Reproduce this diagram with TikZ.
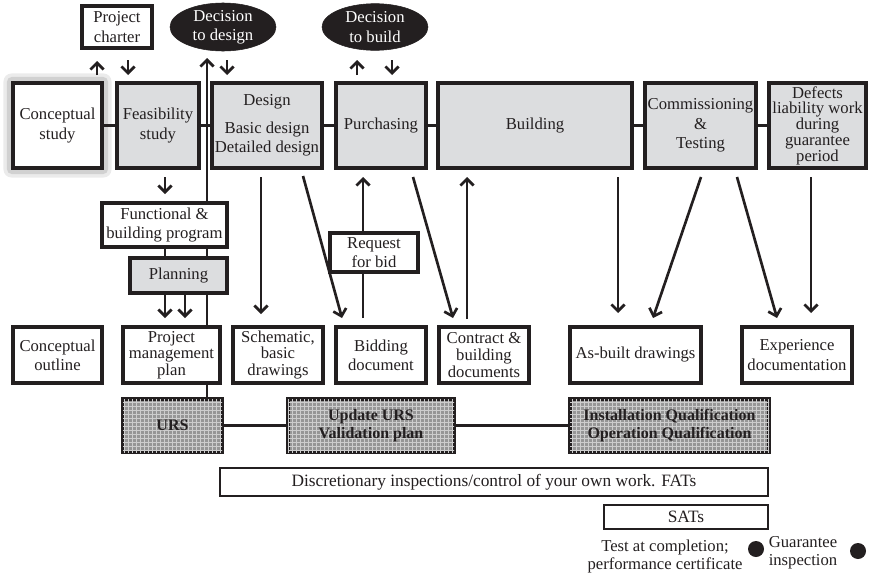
\documentclass[tikz,border=0pt]{standalone}
\usepackage{fontspec}
\setmainfont{Liberation Serif}
\usetikzlibrary{shapes.geometric,arrows.meta,patterns}
\pgfdeclarelayer{background}
\pgfsetlayers{background,main}
\definecolor{boxgray}{RGB}{220,221,223}
\definecolor{ink}{RGB}{35,31,32}
\definecolor{ursgray}{RGB}{150,150,150}
\definecolor{ursline}{RGB}{205,205,205}
\newcommand\bx[7][]{\node[#1, minimum width={(#4-#2)*0.75pt}, minimum height={(#5-#3)*0.75pt}] (#6) at ({(#2+#4)/2},{(#3+#5)/2}) {#7};}
\tikzset{
  base/.style={align=center, text=ink, font=\fontsize{12.5}{14.5}\selectfont, inner sep=1pt, line width=2.3pt, draw=ink},
  topg/.style={base, fill=boxgray},
  wb/.style={base, fill=white},
  gb/.style={base, fill=boxgray},
  ub/.style={base, fill=ursgray, text=ink, font=\bfseries\fontsize{12}{14}\selectfont, postaction={pattern=grid, pattern color=ursline}},
  tb/.style={base, fill=white, line width=0.8pt, font=\fontsize{13}{15}\selectfont},
  dec/.style={ellipse, fill=ink, draw=ink, text=white, align=center, font=\fontsize{12.5}{14.5}\selectfont, inner sep=0pt},
  txt/.style={align=center, text=ink, font=\fontsize{12.5}{13.5}\selectfont, inner sep=0pt},
  dot/.style={circle, fill=ink, minimum size=12pt, inner sep=0pt},
  ln/.style={line width=2pt, draw=ink},
  arr/.style={ln, -{Straight Barb[length=5pt,width=10pt]}},
}
\begin{document}
\begin{tikzpicture}[x=0.75pt, y=-0.75pt]
\useasboundingbox (0,0) rectangle (871,578);
% top row
\bx[wb]{13}{83}{102}{168}{cs}{Conceptual\\study}
\bx[topg]{117}{83}{199}{168}{fs}{Feasibility\\study}
\bx[topg]{212}{83}{322}{168}{des}{Design\\[6pt]Basic design\\Detailed design}
\bx[topg]{336}{83}{426}{168}{pur}{Purchasing}
\bx[topg]{438}{83}{632}{168}{bld}{Building}
\bx[topg]{645}{83}{756}{168}{com}{Commissioning\\\&\\Testing}
\bx[topg, font=\fontsize{12.5}{11.8}\selectfont]{769}{83}{866}{168}{def}{Defects\\liability work\\during\\guarantee\\period}
% above
\bx[wb]{82}{6}{152}{48}{pc}{Project\\charter}
\node[dec, minimum width=79.5pt, minimum height=35pt] (dd) at (223,27) {Decision\\to design};
\node[dec, minimum width=79.5pt, minimum height=35pt] (db) at (375,27) {Decision\\to build};
% middle
\bx[wb]{102}{203}{227}{247}{fbp}{Functional \&\\building program}
\bx[gb]{130}{258}{227}{293}{pl}{Planning}
\bx[wb]{330}{233}{418}{272}{rfb}{Request\\for bid}
% second row
\bx[wb]{13}{327}{102}{383}{co}{Conceptual\\outline}
\bx[wb, font=\fontsize{12.5}{12.5}\selectfont]{123}{327}{220}{383}{pmp}{Project\\management\\plan}
\bx[wb, font=\fontsize{12.5}{12.5}\selectfont]{233}{327}{323}{383}{sch}{Schematic,\\basic\\drawings}
\bx[wb]{336}{327}{426}{383}{bid}{Bidding\\document}
\bx[wb, font=\fontsize{12.5}{12.5}\selectfont]{439}{327}{529}{383}{con}{Contract \&\\building\\documents}
\bx[wb]{570}{327}{701}{383}{asb}{As-built drawings}
\bx[wb]{742}{327}{852}{383}{exp}{Experience\\documentation}
% validation row
\bx[ub]{123}{399}{222}{452}{urs}{URS}
\bx[ub]{288}{399}{454}{452}{upd}{Update URS\\Validation plan}
\bx[ub]{570}{399}{769}{452}{iq}{Installation Qualification\\Operation Qualification}
% bottom
\bx[tb]{220}{468}{768}{496}{disc}{Discretionary inspections/control of your own work. FATs}
\bx[tb]{604}{505}{768}{529}{sat}{SATs}
\node[txt] (tac) at (665,556) {Test at completion;\\performance certificate};
\node[dot] (d1) at (756,549) {};
\node[txt] (gi) at (803,553) {Guarantee\\inspection};
\node[dot] (d2) at (858,551) {};
\begin{pgfonlayer}{background}
  \fill[black!8, rounded corners=6pt] ([xshift=-6pt,yshift=-6pt]cs.south west) rectangle ([xshift=6pt,yshift=6pt]cs.north east);
  \fill[black!18, rounded corners=4pt] ([xshift=-3.5pt,yshift=-3.5pt]cs.south west) rectangle ([xshift=3.5pt,yshift=3.5pt]cs.north east);
  % horizontal chain
  \draw[ln] (cs.east) -- (fs.west);
  \draw[ln] (fs.east) -- (des.west);
  \draw[ln] (des.east) -- (pur.west);
  \draw[ln] (pur.east) -- (bld.west);
  \draw[ln] (bld.east) -- (com.west);
  \draw[ln] (com.east) -- (def.west);
  \draw[ln] (urs.east) -- (upd.west);
  \draw[ln] (upd.east) -- (iq.west);
  % decisions and charter
  \draw[arr] (97,75) -- (97,61);
  \draw[arr] (128,60) -- (128,75);
  \draw[arr] (207,399) -- (207,58);
  \draw[arr] (227,60) -- (227,75);
  \draw[arr] (357,75) -- (357,60);
  \draw[arr] (392,60) -- (392,75);
  % planning column
  \draw[arr] (165,177) -- (165,194);
  \draw[ln] (165,247) -- (165,258);
  \draw[arr] (165,293) -- (165,318);
  \draw[arr] (185,293) -- (185,318);
  % deliverables
  \draw[arr] (261,177) -- (261,314);
  \draw[arr] (303,176) -- (342,318);
  \draw[arr] (363,318) -- (363,177);
  \draw[arr] (413,177) -- (453,318);
  \draw[arr] (467,319) -- (467,177);
  \draw[arr] (618,177) -- (618,313);
  \draw[arr] (701,177) -- (653,318);
  \draw[arr] (737,177) -- (777,318);
  \draw[arr] (811,177) -- (811,313);
\end{pgfonlayer}
\end{tikzpicture}
\end{document}
